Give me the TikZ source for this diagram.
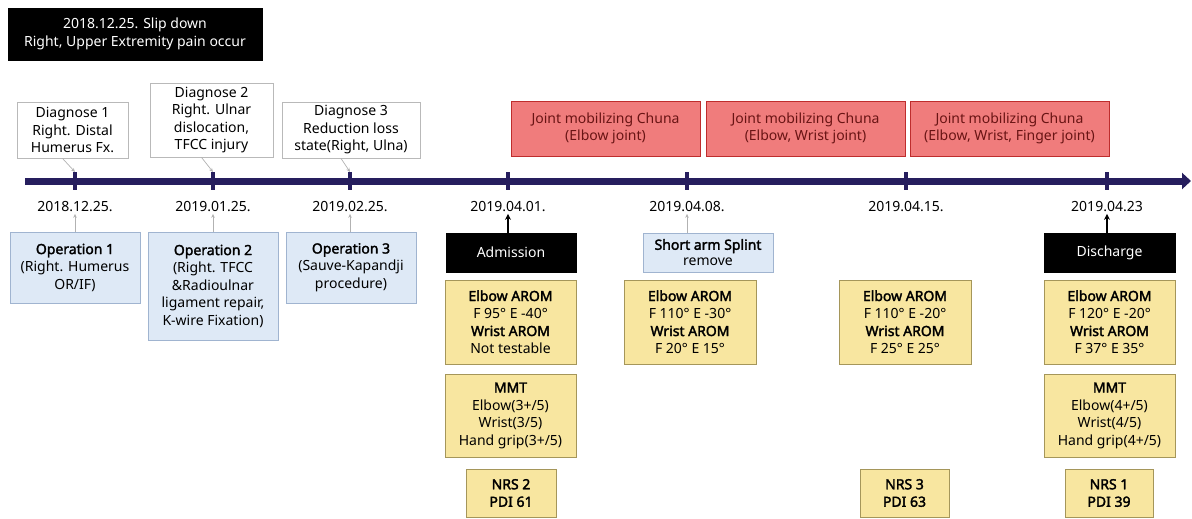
\documentclass[tikz,border=0pt]{standalone}
\usepackage{fontspec}
\setmainfont{Noto Sans}[AutoFakeBold=2.2]
\usetikzlibrary{arrows.meta}
\definecolor{navy}{RGB}{38,30,94}
\definecolor{diaggray}{RGB}{185,185,185}
\definecolor{bluefill}{RGB}{222,233,246}
\definecolor{blueborder}{RGB}{160,180,208}
\definecolor{redfill}{RGB}{240,124,124}
\definecolor{redborder}{RGB}{190,45,45}
\definecolor{redtext}{RGB}{105,20,20}
\definecolor{yelfill}{RGB}{248,230,160}
\definecolor{yelborder}{RGB}{165,150,90}
\begin{document}
\begin{tikzpicture}[x=1pt,y=-1pt,
  font=\fontsize{14}{17.5}\selectfont,
  box/.style={draw, align=center, inner sep=1pt, line width=0.8pt},
  diag/.style={box, draw=diaggray, fill=white},
  opbox/.style={box, draw=blueborder, fill=bluefill},
  chuna/.style={box, draw=redborder, fill=redfill, text=redtext, line width=1pt},
  blk/.style={box, draw=black, fill=black, text=white},
  yel/.style={box, draw=yelborder, fill=yelfill, line width=1pt},
  datelbl/.style={inner sep=1.5pt, font=\fontsize{14}{16}\selectfont},
  conn/.style={draw=gray!60, line width=0.7pt, -{Stealth[length=4pt,width=3.5pt]}},
  blkarrow/.style={draw=black, line width=1.6pt, -{Stealth[length=6pt,width=6pt]}},
  tick/.style={draw=navy, line width=3.5pt}
]
\useasboundingbox (0,0) rectangle (1192,519);

% top event
\node[blk, minimum width=254, minimum height=52] (event) at (135,34)
  {2018.12.25. Slip down\\Right, Upper Extremity pain occur};

% timeline
\coordinate (tlstart) at (25,181);
\coordinate (tlend) at (1191,181);
\draw[navy, line width=7pt, -{Triangle[length=9pt,width=16pt]}] (tlstart) -- (tlend);

\foreach \i/\x in {1/75,2/213,3/350,4/508,5/687,6/906,7/1107}{
  \coordinate (tk\i) at (\x,172);
  \coordinate (tb\i) at (\x,190);
  \draw[tick] (tk\i) -- (tb\i);
}

% dates
\node[datelbl] (d1) at (75,207) {2018.12.25.};
\node[datelbl] (d2) at (213,207) {2019.01.25.};
\node[datelbl] (d3) at (350,207) {2019.02.25.};
\node[datelbl] (d4) at (508,207) {2019.04.01.};
\node[datelbl] (d5) at (687,207) {2019.04.08.};
\node[datelbl] (d6) at (906,207) {2019.04.15.};
\node[datelbl] (d7) at (1107,207) {2019.04.23};

% diagnoses
\node[diag, minimum width=111, minimum height=56] (dg1) at (72.5,130)
  {Diagnose 1\\Right. Distal\\Humerus Fx.};
\node[diag, minimum width=123, minimum height=74] (dg2) at (211.5,120)
  {Diagnose 2\\Right. Ulnar\\dislocation,\\TFCC injury};
\node[diag, minimum width=138, minimum height=56] (dg3) at (351,130)
  {Diagnose 3\\Reduction loss\\state(Right, Ulna)};
\draw[conn] ([xshift=-10pt]dg1.south) -- (tk1);
\draw[conn] ([xshift=-10pt]dg2.south) -- (tk2);
\draw[conn] ([xshift=-10pt]dg3.south) -- (tk3);

% operations
\node[opbox, minimum width=130, minimum height=71] (op1) at (75,267.5)
  {\textbf{Operation 1}\\(Right. Humerus\\OR/IF)};
\node[opbox, minimum width=130, minimum height=108] (op2) at (213,286)
  {\textbf{Operation 2}\\(Right. TFCC\\\&Radioulnar\\ligament repair,\\K-wire Fixation)};
\node[opbox, minimum width=130, minimum height=71] (op3) at (351,267.5)
  {\textbf{Operation 3}\\(Sauve-Kapandji\\procedure)};
\draw[conn] (op1.north -| d1) -- (d1.south);
\draw[conn] (op2.north -| d2) -- (d2.south);
\draw[conn] (op3.north -| d3) -- (d3.south);

% chuna
\node[chuna, minimum width=189, minimum height=55] (ch1) at (605.5,128.5)
  {Joint mobilizing Chuna\\(Elbow joint)};
\node[chuna, minimum width=199, minimum height=55] (ch2) at (805.5,128.5)
  {Joint mobilizing Chuna\\(Elbow, Wrist joint)};
\node[chuna, minimum width=199, minimum height=55] (ch3) at (1009.5,128.5)
  {Joint mobilizing Chuna\\(Elbow, Wrist, Finger joint)};

% admission / splint / discharge
\node[blk, minimum width=130, minimum height=39] (adm) at (511,252.5) {Admission};
\node[opbox, minimum width=130, minimum height=39, font=\fontsize{14}{16}\selectfont] (spl) at (708,252.5)
  {\textbf{Short arm Splint}\\remove};
\node[blk, minimum width=131, minimum height=39] (dis) at (1109.5,252.5) {Discharge};
\draw[blkarrow] (adm.north -| d4) -- (d4.south);
\draw[conn] (spl.north -| d5) -- (d5.south);
\draw[blkarrow] (dis.north -| d7) -- (d7.south);

% AROM
\node[yel, minimum width=131, minimum height=84] (a1) at (510.5,322)
  {\textbf{Elbow AROM}\\F 95° E -40°\\\textbf{Wrist AROM}\\Not testable};
\node[yel, minimum width=132, minimum height=84] (a2) at (690,322)
  {\textbf{Elbow AROM}\\F 110° E -30°\\\textbf{Wrist AROM}\\F 20° E 15°};
\node[yel, minimum width=132, minimum height=84] (a3) at (905,322)
  {\textbf{Elbow AROM}\\F 110° E -20°\\\textbf{Wrist AROM}\\F 25° E 25°};
\node[yel, minimum width=131, minimum height=84] (a4) at (1109.5,322)
  {\textbf{Elbow AROM}\\F 120° E -20°\\\textbf{Wrist AROM}\\F 37° E 35°};

% MMT
\node[yel, minimum width=131, minimum height=83] (m1) at (510.5,415.5)
  {\textbf{MMT}\\Elbow(3+/5)\\Wrist(3/5)\\Hand grip(3+/5)};
\node[yel, minimum width=131, minimum height=83] (m4) at (1109.5,415.5)
  {\textbf{MMT}\\Elbow(4+/5)\\Wrist(4/5)\\Hand grip(4+/5)};

% NRS / PDI
\node[yel, minimum width=90, minimum height=48] (n1) at (511,493)
  {\textbf{NRS 2}\\\textbf{PDI 61}};
\node[yel, minimum width=89, minimum height=48] (n3) at (904.5,493)
  {\textbf{NRS 3}\\\textbf{PDI 63}};
\node[yel, minimum width=88, minimum height=48] (n4) at (1109,493)
  {\textbf{NRS 1}\\\textbf{PDI 39}};
\end{tikzpicture}
\end{document}
